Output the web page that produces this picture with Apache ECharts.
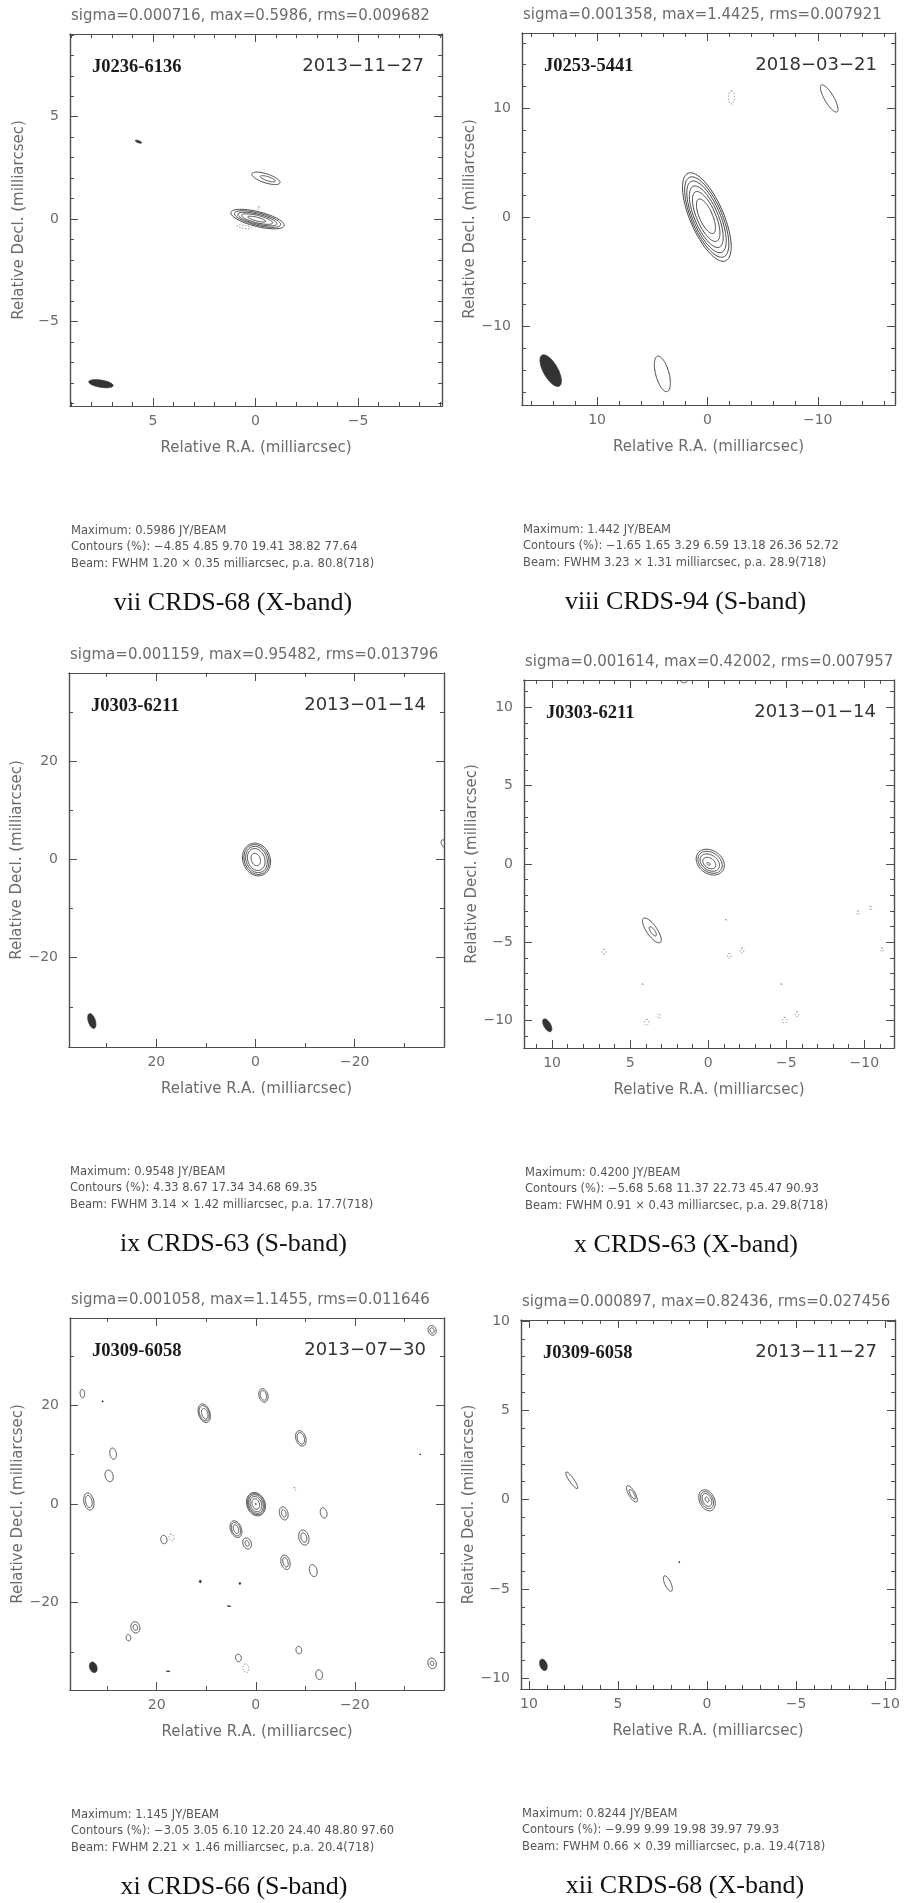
<!DOCTYPE html>
<html><head><meta charset="utf-8">
<script src="https://cdn.jsdelivr.net/npm/echarts@6/dist/echarts.min.js"></script>
<style>html,body{margin:0;padding:0;background:#fff}#c{width:904px;height:1903px}</style>
</head><body><div id="c"></div>
<script>
// ---------------- DATA ----------------
const panelIds = ['vii','viii','ix','x','xi','xii'];
const sigmaTitles = [
  'sigma=0.000716, max=0.5986, rms=0.009682',
  'sigma=0.001358, max=1.4425, rms=0.007921',
  'sigma=0.001159, max=0.95482, rms=0.013796',
  'sigma=0.001614, max=0.42002, rms=0.007957',
  'sigma=0.001058, max=1.1455, rms=0.011646',
  'sigma=0.000897, max=0.82436, rms=0.027456'
];
const sourceNames = ['J0236-6136','J0253-5441','J0303-6211','J0303-6211','J0309-6058','J0309-6058'];
const obsDates = ['2013\u221211\u221227','2018\u221203\u221221','2013\u221201\u221214','2013\u221201\u221214','2013\u221207\u221230','2013\u221211\u221227'];
const infoMaximum = ['Maximum: 0.5986 JY/BEAM','Maximum: 1.442 JY/BEAM','Maximum: 0.9548 JY/BEAM','Maximum: 0.4200 JY/BEAM','Maximum: 1.145 JY/BEAM','Maximum: 0.8244 JY/BEAM'];
const infoContours = [
  'Contours (%): \u22124.85 4.85 9.70 19.41 38.82 77.64',
  'Contours (%): \u22121.65 1.65 3.29 6.59 13.18 26.36 52.72',
  'Contours (%): 4.33 8.67 17.34 34.68 69.35',
  'Contours (%): \u22125.68 5.68 11.37 22.73 45.47 90.93',
  'Contours (%): \u22123.05 3.05 6.10 12.20 24.40 48.80 97.60',
  'Contours (%): \u22129.99 9.99 19.98 39.97 79.93'
];
const infoBeam = [
  'Beam: FWHM 1.20 \u00d7 0.35 milliarcsec, p.a. 80.8(718)',
  'Beam: FWHM 3.23 \u00d7 1.31 milliarcsec, p.a. 28.9(718)',
  'Beam: FWHM 3.14 \u00d7 1.42 milliarcsec, p.a. 17.7(718)',
  'Beam: FWHM 0.91 \u00d7 0.43 milliarcsec, p.a. 29.8(718)',
  'Beam: FWHM 2.21 \u00d7 1.46 milliarcsec, p.a. 20.4(718)',
  'Beam: FWHM 0.66 \u00d7 0.39 milliarcsec, p.a. 19.4(718)'
];
const captions = ['vii CRDS-68 (X-band)','viii CRDS-94 (S-band)','ix CRDS-63 (S-band)','x CRDS-63 (X-band)','xi CRDS-66 (S-band)','xii CRDS-68 (X-band)'];
const xAxisTitle = 'Relative R.A. (milliarcsec)';
const yAxisTitle = 'Relative Decl. (milliarcsec)';

// axis extents [min, max] (R.A. axis drawn reversed)
const xRanges = [[-9.1,9.05],[-17.0,16.8],[-38.0,37.6],[-11.9,11.8],[-38.0,37.5],[-10.56,10.45]];
const yRanges = [[-9.13,9.04],[-17.2,16.9],[-38.2,38.0],[-11.75,11.75],[-37.7,37.7],[-10.6,10.05]];
// tick values (labelled majors, unlabelled minors)
const majorTicks = [[-5,0,5],[-10,0,10],[-20,0,20],[-10,-5,0,5,10],[-20,0,20],[-10,-5,0,5,10]];
const minorTicks = [
  [-9,-8,-7,-6,-4,-3,-2,-1,1,2,3,4,6,7,8,9],
  [-16,-14,-12,-8,-6,-4,-2,2,4,6,8,12,14,16],
  [-30,-10,10,30],
  [-11,-9,-8,-7,-6,-4,-3,-2,-1,1,2,3,4,6,7,8,9,11],
  [-30,-10,10,30],
  [-9,-8,-7,-6,-4,-3,-2,-1,1,2,3,4,6,7,8,9]
];

// contour ellipses: [RA, Dec, semi-major, semi-minor, p.a.(deg)]
const viiPositive = [
  [-0.10,0.00,1.34,0.36,76],[-0.10,0.00,1.16,0.30,76],[-0.09,0.00,0.98,0.24,76],
  [-0.08,0.00,0.78,0.18,76],[-0.06,0.00,0.45,0.09,76],
  [-0.51,1.99,0.72,0.22,72],[-0.60,1.97,0.38,0.10,72]
];
const viiNegative = [[0.55,-0.38,0.35,0.08,80],[-0.15,0.55,0.08,0.04,0]];
const viiBlobs = [[5.71,3.78,0.16,0.05,70]];
const viiBeam = [7.54,-8.04,0.60,0.175,80.8];

const viiiPositive = [
  [0.05,0.03,4.36,1.52,23],[0.06,0.03,3.96,1.38,23],[0.08,0.05,3.53,1.23,23],
  [0.10,0.06,3.03,1.06,23],[0.11,0.08,2.46,0.86,23],[0.13,0.10,1.70,0.60,23],
  [4.08,-14.35,1.68,0.60,15],[-11.04,10.90,1.42,0.42,30]
];
const viiiNegative = [[-2.18,11.0,0.6,0.28,0]];
const viiiBlobs = [];
const viiiBeam = [14.2,-14.05,1.615,0.655,28.9];

const ixPositive = [
  [-0.2,0.0,3.4,2.75,20],[-0.2,0.0,3.1,2.45,20],[-0.2,0.0,2.75,2.1,20],
  [-0.15,0.0,2.3,1.7,20],[-0.05,0.0,1.3,0.9,20],[-38.3,3.0,1.2,0.6,40]
];
const ixNegative = [];
const ixBlobs = [];
const ixBeam = [33.0,-32.9,1.57,0.71,17.7];

const xPositive = [
  [-0.13,0.12,0.97,0.74,55],[-0.12,0.11,0.84,0.62,55],[-0.10,0.09,0.68,0.48,55],
  [-0.07,0.06,0.46,0.31,55],[-0.02,0.01,0.12,0.07,55],
  [3.61,-4.24,0.94,0.33,35],[3.55,-4.30,0.35,0.13,35],[1.56,11.95,0.38,0.32,0]
];
const xNegative = [
  [6.67,-5.6,0.15,0.12,0],[-1.13,-3.58,0.06,0.03,0],[-1.35,-5.86,0.15,0.12,0],[-2.16,-5.53,0.15,0.12,0],
  [4.21,-7.69,0.06,0.03,0],[3.94,-10.1,0.18,0.14,0],[3.14,-9.72,0.12,0.10,0],[-4.68,-7.69,0.06,0.03,0],
  [-4.9,-9.97,0.18,0.14,0],[-5.69,-9.6,0.15,0.12,0],[-9.6,-3.12,0.12,0.08,0],[-10.4,-2.82,0.12,0.08,0],
  [-11.14,-5.48,0.12,0.08,0]
];
const xBlobs = [];
const xBeam = [10.31,-10.3,0.455,0.215,29.8];

const xiPositive = [
  [-0.04,-0.03,2.42,1.84,20],[-0.04,-0.03,2.2,1.64,20],[-0.03,-0.02,1.95,1.42,20],
  [-0.02,-0.02,1.6,1.12,20],[0,0,1.1,0.74,20],[0,0,0.15,0.1,20],
  [-1.55,22.0,1.4,0.9,15],[-1.55,22.0,1.0,0.6,15],
  [10.4,18.4,1.95,1.15,18],[10.4,18.4,1.6,0.95,18],[10.3,18.3,1.1,0.6,18],
  [-9.1,13.3,1.6,1.0,18],[-9.1,13.3,1.2,0.7,18],
  [28.8,10.2,1.15,0.65,10],
  [29.6,5.7,1.2,0.8,15],
  [33.7,0.5,1.75,1.0,12],[33.7,0.5,1.25,0.65,12],
  [35.0,22.4,0.85,0.45,5],
  [-35.6,35.2,1.0,0.8,20],[-35.6,35.2,0.55,0.4,20],
  [-5.65,-1.9,1.35,0.85,15],[-5.65,-1.9,0.75,0.45,15],
  [-13.7,-1.8,1.05,0.65,15],
  [4.0,-5.1,1.75,1.1,20],[4.0,-5.1,1.4,0.85,20],[4.0,-5.1,0.9,0.5,20],
  [1.75,-8.0,1.15,0.85,20],[1.75,-8.0,0.6,0.4,20],
  [-9.7,-6.8,1.55,1.0,15],[-9.7,-6.8,1.0,0.55,15],
  [-6.0,-11.8,1.5,0.9,15],[-6.0,-11.8,1.0,0.5,15],
  [-11.6,-13.5,1.25,0.75,15],
  [18.55,-7.2,0.85,0.62,10],
  [24.3,-25.0,1.15,0.9,15],[24.3,-25.0,0.6,0.45,15],
  [25.7,-27.1,0.65,0.47,10],
  [-8.7,-29.6,0.77,0.57,10],
  [3.5,-31.2,0.77,0.57,10],
  [-12.8,-34.6,1.0,0.67,10],
  [-35.6,-32.3,1.08,0.84,15],[-35.6,-32.3,0.45,0.35,15]
];
const xiNegative = [[-7.9,3.1,0.3,0.15,30],[17.0,-6.8,0.7,0.5,10],[2.0,-33.3,0.9,0.6,10]];
const xiBlobs = [[30.9,20.8,0.15,0.08,0],[-33.2,10.05,0.12,0.06,0],[11.2,-15.7,0.25,0.2,0],[3.2,-16.1,0.2,0.15,0],[5.4,-20.7,0.35,0.06,80],[17.7,-33.9,0.35,0.06,90]];
const xiBeam = [32.8,-33.1,1.1,0.73,20.4];

const xiiPositive = [
  [0.0,-0.04,0.62,0.42,25],[0.0,-0.03,0.50,0.33,25],[0.0,-0.02,0.38,0.24,25],[0.0,0.0,0.15,0.10,25],
  [4.22,0.32,0.52,0.18,30],[4.20,0.30,0.30,0.10,30],
  [7.6,1.08,0.56,0.13,35],
  [2.2,-4.7,0.47,0.17,25]
];
const xiiNegative = [];
const xiiBlobs = [[1.56,-3.5,0.04,0.02,0]];
const xiiBeam = [9.19,-9.25,0.33,0.195,19.4];

const positiveSets = [viiPositive, viiiPositive, ixPositive, xPositive, xiPositive, xiiPositive];
const negativeSets = [viiNegative, viiiNegative, ixNegative, xNegative, xiNegative, xiiNegative];
const blobSets = [viiBlobs, viiiBlobs, ixBlobs, xBlobs, xiBlobs, xiiBlobs];
const beamSets = [viiBeam, viiiBeam, ixBeam, xBeam, xiBeam, xiiBeam];

// ---------------- LAYOUT ----------------
const gridBoxes = [[70,34,372,372],[522,33,373,372],[69,673,375,374],[524,680,370,368],[70,1318,374,372],[521,1320,374,369]];
const FRAME = '#4d4d4d';
const LABEL = '#6b6b6b';
const SANS = '"DejaVu Sans", sans-serif';
const SERIF = '"Liberation Serif", "Times New Roman", serif';

const fmt = v => String(v).replace('-', '\u2212');

function mkAxis(dim, gi, pos, range, ticks, len, labels, name) {
  const ax = {
    type: 'value', gridIndex: gi, position: pos, min: range[0], max: range[1],
    inverse: dim === 'x', scale: true,
    axisLine: { show: true, onZero: false, lineStyle: { color: FRAME, width: 1.2 } },
    axisTick: { show: true, inside: true, length: len, customValues: ticks, lineStyle: { color: FRAME, width: 1 } },
    axisLabel: labels ? {
      show: true, customValues: labels, formatter: fmt, color: LABEL, fontSize: 14,
      fontFamily: SANS, margin: dim === 'x' ? 8 : 11, showMinLabel: true, showMaxLabel: true
    } : { show: false },
    splitLine: { show: false }, minorTick: { show: false }, minorSplitLine: { show: false }
  };
  if (name) {
    ax.name = name; ax.nameLocation = 'middle'; ax.nameGap = dim === 'x' ? 35 : 43;
    ax.nameTextStyle = { color: LABEL, fontSize: 15, fontFamily: SANS };
  }
  return ax;
}

function renderEllipse(params, api) {
  const cx = api.value(0), cy = api.value(1), a = api.value(2), b = api.value(3);
  const pa = api.value(4) * Math.PI / 180, kind = api.value(5);
  const pts = [];
  const N = 90;
  for (let k = 0; k <= N; k++) {
    const t = k / N * 2 * Math.PI;
    const u = a * Math.cos(t), v = b * Math.sin(t);
    const dx = u * Math.sin(pa) + v * Math.cos(pa);
    const dy = u * Math.cos(pa) - v * Math.sin(pa);
    pts.push(api.coord([cx + dx, cy + dy]));
  }
  let style;
  if (kind === 2) style = { fill: '#333333', stroke: '#333333', lineWidth: 0.8 };
  else if (kind === 1) style = { fill: 'none', stroke: '#666666', lineWidth: 1, lineDash: [1, 2] };
  else style = { fill: 'none', stroke: '#444444', lineWidth: 1 };
  return { type: 'polygon', shape: { points: pts }, style: style };
}

const grids = [], xAxes = [], yAxes = [], series = [], graphics = [];
panelIds.forEach((id, i) => {
  const [L, T, W, H] = gridBoxes[i];
  grids.push({ left: L, top: T, width: W, height: H, containLabel: false });
  const xb = xAxes.length, yb = yAxes.length;
  xAxes.push(mkAxis('x', i, 'bottom', xRanges[i], majorTicks[i], 8, majorTicks[i], xAxisTitle));
  xAxes.push(mkAxis('x', i, 'bottom', xRanges[i], minorTicks[i], 4, null, null));
  xAxes.push(mkAxis('x', i, 'top', xRanges[i], majorTicks[i], 8, null, null));
  xAxes.push(mkAxis('x', i, 'top', xRanges[i], minorTicks[i], 4, null, null));
  yAxes.push(mkAxis('y', i, 'left', yRanges[i], majorTicks[i], 8, majorTicks[i], yAxisTitle));
  yAxes.push(mkAxis('y', i, 'left', yRanges[i], minorTicks[i], 4, null, null));
  yAxes.push(mkAxis('y', i, 'right', yRanges[i], majorTicks[i], 8, null, null));
  yAxes.push(mkAxis('y', i, 'right', yRanges[i], minorTicks[i], 4, null, null));

  const items = [];
  positiveSets[i].forEach(e => items.push(e.concat([0])));
  negativeSets[i].forEach(e => items.push(e.concat([1])));
  blobSets[i].forEach(e => items.push(e.concat([2])));
  items.push(beamSets[i].concat([2]));
  series.push({
    type: 'custom', name: id, xAxisIndex: xb, yAxisIndex: yb, clip: true, silent: true,
    animation: false, renderItem: renderEllipse, encode: { x: 0, y: 1 }, data: items
  });

  // texts
  const R = L + W, B = T + H;
  graphics.push({ type: 'text', x: L + 1, y: T - 18, style: { text: sigmaTitles[i], font: '15px ' + SANS, fill: LABEL, textAlign: 'left', textVerticalAlign: 'middle', align: 'left', verticalAlign: 'middle' } });
  graphics.push({ type: 'text', x: L + 22, y: T + 33, style: { text: sourceNames[i], font: 'bold 18.5px ' + SERIF, fill: '#1a1a1a', textAlign: 'left', textVerticalAlign: 'middle', align: 'left', verticalAlign: 'middle' } });
  graphics.push({ type: 'text', x: R - 18, y: T + 32, style: { text: obsDates[i], font: '18px ' + SANS, fill: '#333', textAlign: 'right', textVerticalAlign: 'middle', align: 'right', verticalAlign: 'middle' } });
  [infoMaximum[i], infoContours[i], infoBeam[i]].forEach((s, k) => {
    graphics.push({ type: 'text', x: L + 1, y: B + 125 + k * 16.4, style: { text: s, font: '11.5px ' + SANS, fill: '#555', textAlign: 'left', textVerticalAlign: 'middle', align: 'left', verticalAlign: 'middle' } });
  });
  graphics.push({ type: 'text', x: L + W / 2 - 23, y: B + 197, style: { text: captions[i], font: '26px ' + SERIF, fill: '#111', textAlign: 'center', textVerticalAlign: 'middle', align: 'center', verticalAlign: 'middle' } });
});

const chart = echarts.init(document.getElementById('c'), null, { renderer: 'canvas' });
chart.setOption({
  animation: false,
  backgroundColor: '#ffffff',
  grid: grids, xAxis: xAxes, yAxis: yAxes, series: series, graphic: graphics
});
</script></body></html>
